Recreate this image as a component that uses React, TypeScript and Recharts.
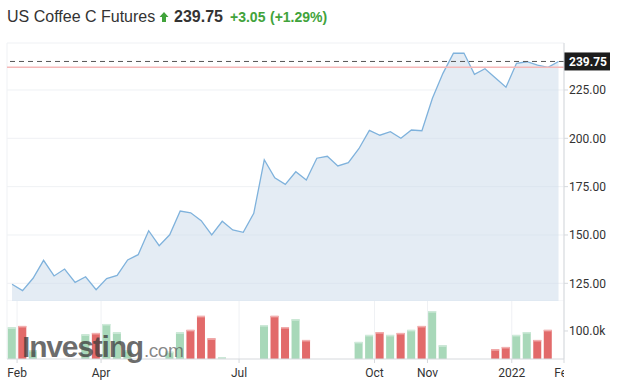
import {
  ComposedChart, Area, XAxis, YAxis, CartesianGrid, ReferenceLine, BarChart, Bar,
} from 'recharts'

// weekly closes, Feb 2021 -> Feb 2022
const PRICE = [
  124.5, 121.2, 127.6, 136.9, 128.8, 132.4, 125.5, 128.4, 121.7, 127.4,
  129.1, 137.1, 139.8, 152.2, 144.5, 150.1, 162.4, 161.5, 157.4, 150.0,
  157.1, 152.6, 151.4, 161.2, 188.9, 179.6, 176.2, 182.7, 178.4, 189.7,
  190.7, 185.7, 187.4, 194.6, 204.1, 201.6, 203.4, 200.0, 204.3, 203.9,
  220.7, 233.6, 244.0, 244.1, 233.1, 236.0, 231.2, 226.4, 238.8, 239.6,
  237.9, 236.7, 239.75,
]
// weekly volume in thousands (0 = no bar)
const VOLUME_K = [
  113, 118, 32, 0, 0, 0, 0, 88, 93, 125,
  95, 32, 0, 0, 0, 26, 95, 104, 154, 74,
  6, 0, 0, 0, 121, 154, 114, 142, 68, 0,
  0, 0, 0, 61, 86, 96, 86, 93, 104, 118,
  171, 49, 0, 0, 0, 0, 35, 43, 86, 96,
  68, 104, 0,
]
const X_TICKS = [0.48, 8.47, 21.6, 34.49, 39.53, 47.55, 52.52]
const X_LABELS = ['Feb', 'Apr', 'Jul', 'Oct', 'Nov', '2022', 'Feb']
const PRICE_TICKS = [125, 150, 175, 200, 225]
const VOLUME_TICKS = [100]
const LAST = 239.75
const PREV_CLOSE = 236.7
const CHANGE = 3.05
const CHANGE_PCT = 1.29

const W = 629
const AXIS_W = 65
const LEFT = 7
const PLOT_RIGHT = W - AXIS_W
const X_DOMAIN: [number, number] = [-0.48, 52.52]
const PRICE_DOMAIN: [number, number] = [115.85, 249.3]
const VOL_DOMAIN: [number, number] = [0, 207]

const UP = '#a8d8b9'
const UP_TOP = '#cfeada'
const DOWN = '#e26a6a'
const DOWN_TOP = '#f2b0b0'
const LINE = '#7fb2dc'
const GRID = '#eff1f4'
const AXIS = '#d6d9dd'
const TEXT = '#333'
const GREEN = '#41a33b'
const AXIS_FONT = 'Roboto, "Liberation Sans", Arial, sans-serif'
const TITLE_FONT = '"Liberation Sans", Arial, Helvetica, sans-serif'

const AXIS_TICK = { fontSize: 12, fill: TEXT, fontFamily: AXIS_FONT }

const data = PRICE.map((p, i) => ({
  i,
  price: p,
  vol: VOLUME_K[i] > 0 ? VOLUME_K[i] : null,
  up: i === 0 || p >= PRICE[i - 1],
}))

// eslint-disable-next-line @typescript-eslint/no-explicit-any
const VolumeBar = (props: any) => {
  const { x, y, width, height, payload } = props
  if (!height || height <= 0) return null
  return (
    <g>
      <rect x={x} y={y} width={width} height={height} fill={payload.up ? UP : DOWN} />
      <rect x={x} y={y} width={width} height={1.5} fill={payload.up ? UP_TOP : DOWN_TOP} />
    </g>
  )
}

// labels clipped at the right edge of the plot, like the reference's cut "Fe"
// eslint-disable-next-line @typescript-eslint/no-explicit-any
const DateTick = (props: any) => {
  const { x, y, index } = props
  const pad = 20
  return (
    <svg x={x - pad} y={y - 2} width={Math.max(0, PLOT_RIGHT - (x - pad))} height={20} overflow="hidden">
      <text x={pad} y={2} dy="0.71em" textAnchor="middle" fontSize={12} fill={TEXT} fontFamily={AXIS_FONT}>
        {X_LABELS[index]}
      </text>
    </svg>
  )
}

// eslint-disable-next-line @typescript-eslint/no-explicit-any
const PriceTag = (props: any) => {
  const vb = props.viewBox
  if (!vb) return null
  const x = vb.x + vb.width
  return (
    <g>
      <rect x={x} y={vb.y - 9} width={46} height={18} fill="#1c1c1c" />
      <text x={x + 5} y={vb.y} dy="0.36em" fontSize={12} fontWeight="bold" fill="#fff" fontFamily={AXIS_FONT}>
        {LAST.toFixed(2)}
      </text>
    </g>
  )
}

export default function App() {
  return (
    <div style={{ position: 'absolute', left: 0, top: 0, width: W, height: 392, background: '#fff', overflow: 'hidden' }}>
      <svg width={W} height={40} style={{ position: 'absolute', left: 0, top: 0 }}>
        <text x={7} y={22} fontSize={16} fill={TEXT} fontFamily={TITLE_FONT}>US Coffee C Futures</text>
        <path d="M164 12 L168.5 17 L166 17 L166 22 L162 22 L162 17 L159.5 17 Z" fill={GREEN} />
        <text x={174} y={22} fontSize={16} fontWeight="bold" fill={TEXT} fontFamily={TITLE_FONT}>
          {LAST.toFixed(2)}
        </text>
        <text x={230} y={22} fontSize={14} fontWeight="bold" fill={GREEN} fontFamily={TITLE_FONT}>
          {`+${CHANGE.toFixed(2)}`}
        </text>
        <text x={270} y={22} fontSize={14} fontWeight="bold" fill={GREEN} fontFamily={TITLE_FONT}>
          {`(+${CHANGE_PCT.toFixed(2)}%)`}
        </text>
      </svg>

      <div style={{ position: 'absolute', left: 0, top: 0 }}>
        <ComposedChart width={W} height={301} data={data} margin={{ top: 43, right: 0, bottom: 0, left: LEFT }}>
          <CartesianGrid stroke={GRID} />
          <XAxis
            dataKey="i"
            type="number"
            domain={X_DOMAIN}
            ticks={X_TICKS}
            interval={0}
            height={0}
            tick={false}
            tickLine={false}
            axisLine={{ stroke: '#c5c9cf' }}
          />
          <YAxis
            orientation="right"
            width={AXIS_W}
            domain={PRICE_DOMAIN}
            ticks={PRICE_TICKS}
            interval={0}
            tickFormatter={(v: number) => v.toFixed(2)}
            tick={AXIS_TICK}
            tickSize={4}
            tickMargin={1}
            axisLine={{ stroke: AXIS }}
            tickLine={{ stroke: AXIS }}
          />
          <Area
            dataKey="price"
            type="linear"
            stroke={LINE}
            strokeWidth={1.3}
            fill="#c9d9ea"
            fillOpacity={0.5}
            isAnimationActive={false}
            dot={false}
            activeDot={false}
          />
          <ReferenceLine y={PREV_CLOSE} stroke="#f5b8b8" strokeWidth={1.5} />
          <ReferenceLine y={LAST} stroke="#555" strokeDasharray="5 4" label={PriceTag} />
        </ComposedChart>
      </div>

      <div style={{ position: 'absolute', left: 0, top: 301 }}>
        <BarChart width={W} height={91} data={data} margin={{ top: 0, right: 0, bottom: 0, left: LEFT }}>
          <CartesianGrid stroke={GRID} horizontal={false} />
          <XAxis
            dataKey="i"
            type="number"
            domain={X_DOMAIN}
            ticks={X_TICKS}
            interval={0}
            height={33}
            tick={DateTick}
            tickSize={4}
            tickMargin={5}
            axisLine={{ stroke: AXIS }}
            tickLine={{ stroke: AXIS }}
          />
          <YAxis
            orientation="right"
            width={AXIS_W}
            domain={VOL_DOMAIN}
            ticks={VOLUME_TICKS}
            interval={0}
            tickFormatter={(v: number) => `${v.toFixed(1)}k`}
            tick={AXIS_TICK}
            tickSize={4}
            tickMargin={1}
            axisLine={{ stroke: AXIS }}
            tickLine={{ stroke: AXIS }}
          />
          <Bar dataKey="vol" barSize={8} shape={VolumeBar} isAnimationActive={false} />
        </BarChart>
      </div>

      {/* watermark */}
      <svg width={W} height={392} style={{ position: 'absolute', left: 0, top: 0, pointerEvents: 'none' }}>
        <text x={22} y={357} fontFamily={TITLE_FONT}>
          <tspan fontSize={30} fontWeight="bold" fill="#3c3c3c" fillOpacity={0.75} letterSpacing={-1.2}>
            Investing
          </tspan>
          <tspan fontSize={19} fill="#5a5a5a" fillOpacity={0.72} letterSpacing={-0.4} dx={1}>
            .com
          </tspan>
        </text>
      </svg>
    </div>
  )
}
